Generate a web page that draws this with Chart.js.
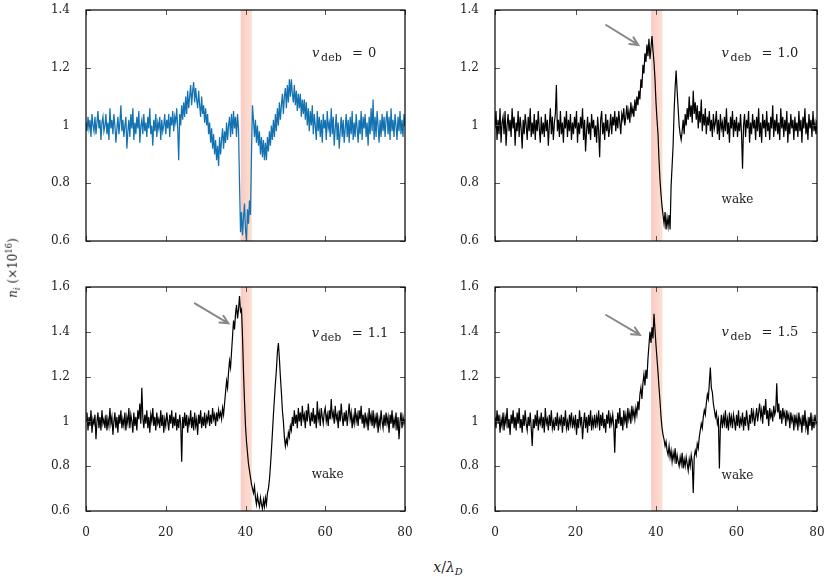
<!DOCTYPE html>
<html>
<head>
<meta charset="utf-8">
<script src="https://cdn.jsdelivr.net/npm/chart.js@4.4.1/dist/chart.umd.min.js"></script>
<style>
  body { margin: 0; background: #fff; }
  #wrap { position: relative; width: 832px; height: 577px; overflow: hidden; font-family: "DejaVu Serif", serif; color: #222; }
  canvas { position: absolute; }
  #ytitle { position: absolute; left: 13px; top: 268px; transform: translate(-50%, -50%) rotate(-90deg); font-size: 12px; white-space: nowrap; }
  #xtitle { position: absolute; left: 448px; top: 568px; transform: translate(-50%, -50%); font-size: 14px; white-space: nowrap; }
  sub, sup { font-size: 70%; }
</style>
</head>
<body>
<div id="wrap">
  <canvas id="pA" width="415" height="250" style="left:0;top:0"></canvas>
  <canvas id="pB" width="417" height="250" style="left:415px;top:0"></canvas>
  <canvas id="pC" width="415" height="295" style="left:0;top:250px"></canvas>
  <canvas id="pD" width="417" height="295" style="left:415px;top:250px"></canvas>
  <div id="ytitle"><i>n</i><sub><i>i</i></sub> (×10<sup>16</sup>)</div>
  <div id="xtitle"><i>x</i>/<i>λ</i><sub><i>D</i></sub></div>
</div>
<script>
// sampling grid, x / lambda_D (0 .. 80, step 0.25)
const xPos = Array.from({ length: 321 }, (_, i) => i * 0.25);

const xTicks = [0, 20, 40, 60, 80];
const yTicksTop = [0.6, 0.8, 1, 1.2, 1.4];
const yTicksBottom = [0.6, 0.8, 1, 1.2, 1.4, 1.6];

// debris region (shaded)
const debrisBand = [38.8, 41.6];

// n_i, v_deb = 0   (one row = 5 lambda_D)
const niV0 = [
  1.01, 0.98, 1.03, 0.99, 1.02, 0.96, 1.04, 1.00, 0.98, 1.03, 0.97, 1.01, 1.05, 0.99, 1.02, 0.95, 1.01, 1.03, 0.98, 1.00,
  1.04, 0.97, 1.01, 0.95, 1.06, 0.99, 1.02, 0.97, 1.04, 1.00, 0.94, 0.99, 1.03, 0.97, 1.01, 1.07, 0.98, 1.02, 0.96, 1.00,
  1.03, 0.92, 0.98, 1.02, 0.96, 1.04, 0.99, 1.06, 0.95, 1.01, 0.97, 1.03, 0.99, 1.05, 0.94, 1.00, 1.02, 0.97, 1.04, 0.98,
  1.01, 0.96, 1.03, 0.99, 1.06, 0.97, 1.00, 0.93, 1.02, 0.98, 1.04, 0.96, 1.01, 0.99, 1.03, 0.95, 1.02, 0.98, 1.00, 1.04,
  0.97, 1.02, 0.99, 1.04, 0.96, 1.03, 1.00, 1.05, 0.98, 1.03, 1.01, 1.06, 0.99, 0.88, 1.04, 1.00, 1.07, 1.02, 1.08, 1.03,
  1.10, 1.04, 1.12, 1.06, 1.10, 1.14, 1.07, 1.12, 1.15, 1.08, 1.13, 1.09, 1.06, 1.12, 1.07, 1.03, 1.10, 1.04, 1.07, 1.01,
  1.06, 1.00, 1.04, 0.97, 1.01, 0.94, 0.99, 0.92, 0.97, 0.90, 0.95, 0.88, 0.93, 0.86, 0.96, 0.90, 0.95, 0.99, 0.92, 0.98,
  0.94, 1.01, 0.95, 1.00, 1.03, 0.96, 1.04, 0.97, 1.05, 0.99, 1.03, 0.96, 1.04, 0.99, 0.80, 0.63, 0.70, 0.62, 0.68, 0.73,
  0.64, 0.60, 0.71, 0.66, 0.74, 0.69, 0.90, 1.07, 1.02, 0.96, 1.02, 0.94, 1.00, 0.93, 0.98, 0.90, 0.96, 0.89, 0.95, 0.88,
  0.94, 0.88, 0.96, 0.91, 0.98, 0.93, 1.00, 0.95, 1.02, 0.96, 1.04, 0.98, 1.06, 1.00, 1.08, 1.02, 1.07, 1.11, 1.04, 1.10,
  1.13, 1.06, 1.14, 1.08, 1.16, 1.10, 1.16, 1.11, 1.08, 1.14, 1.07, 1.12, 1.05, 1.11, 1.06, 1.11, 1.03, 1.09, 1.04, 1.09,
  1.02, 1.08, 1.00, 1.06, 0.98, 1.05, 1.00, 1.07, 0.97, 1.04, 1.00, 0.95, 1.05, 0.98, 1.03, 0.96, 1.02, 0.94, 1.04, 0.99,
  1.02, 0.95, 1.05, 0.99, 1.01, 0.96, 1.06, 0.97, 1.03, 0.93, 0.99, 1.04, 0.95, 1.01, 0.92, 0.98, 1.03, 0.96, 1.02, 0.94,
  0.99, 1.04, 0.96, 1.02, 0.94, 1.03, 0.97, 1.05, 0.95, 1.01, 0.96, 1.04, 0.99, 0.94, 1.02, 0.97, 1.05, 0.95, 1.03, 0.99,
  1.04, 0.96, 1.01, 0.93, 1.03, 0.97, 1.06, 0.98, 1.09, 0.95, 1.03, 0.96, 1.05, 1.00, 0.94, 1.02, 0.96, 1.04, 0.98, 1.03,
  0.96, 1.02, 1.05, 0.97, 1.03, 0.95, 1.06, 0.98, 1.02, 0.96, 1.04, 1.00, 0.95, 1.03, 0.98, 1.05, 0.97, 1.02, 0.96, 1.04,
  1.00
];

// n_i, v_deb = 1.0
const niV10 = [
  0.99, 1.05, 0.95, 1.02, 0.97, 1.06, 0.94, 1.01, 1.03, 0.97, 1.05, 0.93, 1.00, 1.04, 0.98, 1.02, 0.96, 1.06, 0.99, 1.03,
  0.93, 1.01, 0.98, 1.05, 0.96, 1.03, 0.99, 0.92, 1.02, 0.97, 1.04, 1.00, 0.95, 1.03, 0.98, 1.06, 0.96, 1.01, 0.97, 1.04,
  0.95, 1.02, 0.98, 1.05, 0.99, 0.94, 1.03, 0.97, 1.01, 0.96, 1.04, 0.98, 1.02, 0.93, 1.00, 1.06, 0.97, 1.03, 0.95, 1.01,
  1.04, 1.14, 0.98, 1.02, 0.96, 1.05, 0.97, 1.01, 0.94, 1.03, 0.99, 1.05, 0.96, 1.02, 0.98, 1.04, 0.95, 1.01, 0.97, 1.03,
  0.99, 1.05, 0.94, 1.01, 0.97, 1.03, 0.99, 1.06, 0.95, 1.02, 0.91, 0.98, 1.03, 0.97, 1.01, 0.95, 1.04, 0.99, 1.02, 0.96,
  1.00, 0.94, 1.03, 0.98, 0.89, 1.02, 1.05, 0.97, 1.01, 0.95, 1.04, 0.98, 1.02, 0.96, 0.99, 1.04, 0.97, 1.03, 1.00, 1.05,
  0.98, 1.03, 0.99, 1.05, 1.01, 0.97, 1.04, 1.02, 1.06, 1.00, 1.03, 1.07, 1.02, 1.05, 1.01, 1.08, 1.04, 1.06, 1.03, 1.09,
  1.05, 1.10, 1.07, 1.12, 1.09, 1.16, 1.13, 1.21, 1.18, 1.25, 1.22, 1.28, 1.24, 1.30, 1.23, 1.27, 1.31, 1.26, 1.22, 1.16,
  1.08, 1.02, 0.97, 0.88, 0.81, 0.76, 0.72, 0.69, 0.66, 0.70, 0.64, 0.68, 0.65, 0.69, 0.64, 0.79, 0.86, 0.93, 1.05, 1.13,
  1.19, 1.12, 1.06, 1.00, 0.97, 0.95, 0.98, 1.02, 0.97, 1.04, 1.00, 1.06, 1.02, 1.10, 1.03, 1.07, 1.01, 1.12, 1.04, 1.08,
  1.02, 1.07, 0.99, 1.05, 1.01, 1.09, 0.98, 1.04, 1.00, 1.06, 0.97, 1.03, 1.00, 1.05, 0.98, 1.02, 0.96, 1.04, 0.99, 1.01,
  1.05, 0.97, 1.02, 0.95, 1.04, 0.99, 1.01, 0.96, 1.03, 0.98, 1.06, 0.97, 1.01, 0.94, 1.03, 0.99, 1.05, 0.96, 1.02, 0.98,
  1.03, 0.96, 1.01, 0.98, 1.04, 0.97, 0.85, 1.00, 1.04, 0.96, 1.02, 0.99, 1.05, 0.94, 1.01, 0.97, 1.04, 0.99, 1.02, 0.95,
  1.03, 0.98, 1.06, 0.96, 1.01, 0.94, 1.04, 0.99, 1.02, 0.96, 1.05, 0.98, 1.01, 0.95, 1.03, 0.99, 1.07, 0.96, 1.02, 0.98,
  1.04, 0.97, 1.01, 0.95, 1.06, 0.99, 1.03, 0.96, 1.02, 0.98, 1.05, 0.94, 1.01, 0.97, 1.04, 0.99, 1.02, 0.95, 1.03, 0.98,
  1.01, 0.96, 1.05, 0.98, 1.02, 0.94, 1.03, 0.99, 1.06, 0.97, 1.01, 0.95, 1.04, 0.99, 1.02, 0.96, 1.05, 0.98, 1.01, 0.97,
  1.02
];

// n_i, v_deb = 1.1
const niV11 = [
  1.00, 1.04, 0.96, 1.02, 0.98, 1.05, 0.95, 1.01, 0.99, 1.03, 0.92, 1.00, 1.04, 0.97, 1.02, 0.96, 1.05, 0.99, 1.01, 0.97,
  1.03, 0.96, 1.01, 0.98, 1.06, 0.99, 1.02, 0.94, 1.00, 1.04, 0.97, 1.02, 0.95, 1.03, 0.99, 1.05, 0.97, 1.01, 0.98, 1.04,
  0.96, 1.02, 0.99, 1.06, 0.97, 1.03, 1.00, 0.95, 1.04, 0.98, 1.02, 0.96, 1.05, 1.01, 1.08, 0.99, 1.15, 1.02, 0.97, 1.03,
  0.99, 1.05, 0.97, 1.02, 0.95, 1.03, 1.00, 1.06, 0.98, 1.02, 0.96, 1.04, 0.99, 1.01, 0.97, 1.05, 0.98, 1.03, 0.95, 1.01,
  0.98, 1.04, 1.00, 0.96, 1.03, 0.99, 1.05, 0.97, 1.02, 0.98, 1.04, 0.96, 1.01, 0.97, 1.03, 0.99, 0.82, 1.02, 0.97, 1.04,
  0.98, 1.03, 0.95, 1.01, 0.99, 1.05, 0.97, 1.02, 0.96, 1.04, 0.98, 1.01, 0.94, 1.03, 0.99, 1.05, 0.97, 1.02, 0.98, 1.04,
  0.97, 1.02, 1.00, 1.05, 0.98, 1.03, 0.99, 1.06, 1.01, 1.03, 0.98, 1.04, 1.00, 1.05, 1.02, 1.04, 1.01, 1.06, 1.03, 1.08,
  1.13, 1.18, 1.15, 1.22, 1.27, 1.24, 1.31, 1.38, 1.45, 1.41, 1.48, 1.52, 1.46, 1.50, 1.56, 1.49, 1.50, 1.38, 1.22, 1.09,
  0.98, 0.91, 0.86, 0.81, 0.78, 0.75, 0.72, 0.70, 0.68, 0.71, 0.66, 0.63, 0.67, 0.64, 0.62, 0.66, 0.63, 0.61, 0.65, 0.62,
  0.66, 0.63, 0.68, 0.70, 0.74, 0.80, 0.87, 0.95, 1.03, 1.10, 1.17, 1.23, 1.31, 1.35, 1.28, 1.20, 1.13, 1.05, 1.00, 0.93,
  0.89, 0.92, 0.90, 0.95, 0.93, 0.98, 0.96, 1.02, 0.98, 1.05, 0.99, 1.03, 0.97, 1.06, 1.00, 1.04, 0.98, 1.07, 1.01, 1.03,
  0.97, 1.05, 1.00, 1.08, 1.02, 0.98, 1.04, 1.00, 1.06, 0.99, 1.03, 0.97, 1.09, 1.01, 1.04, 0.98, 1.06, 1.02, 0.99, 1.04,
  1.06, 1.00, 1.03, 0.98, 1.05, 1.01, 1.10, 1.02, 1.04, 0.99, 1.07, 1.01, 1.03, 0.97, 1.05, 1.00, 1.08, 1.02, 0.98, 1.04,
  1.00, 1.05, 0.98, 1.03, 1.08, 1.01, 1.04, 0.97, 1.02, 0.99, 1.06, 1.00, 1.03, 0.98, 1.05, 1.01, 1.07, 0.99, 1.03, 0.97,
  1.04, 0.99, 1.02, 0.96, 1.06, 1.00, 1.03, 0.98, 1.05, 0.97, 1.02, 0.99, 1.04, 0.95, 1.01, 0.98, 1.05, 1.00, 0.97, 1.03,
  0.98, 1.04, 0.99, 1.02, 0.95, 1.03, 0.99, 1.05, 0.97, 1.01, 0.98, 1.04, 0.96, 1.02, 0.92, 1.00, 1.04, 0.97, 1.02, 0.99,
  1.01
];

// n_i, v_deb = 1.5
const niV15 = [
  1.02, 0.97, 1.05, 0.99, 1.03, 0.95, 1.01, 0.98, 1.04, 0.96, 1.02, 0.99, 1.06, 0.97, 1.01, 0.94, 1.03, 0.99, 1.05, 0.97,
  1.02, 0.96, 1.04, 0.99, 1.06, 0.97, 1.01, 0.95, 1.03, 0.98, 1.05, 0.99, 0.96, 1.02, 0.98, 1.04, 0.97, 0.89, 1.01, 0.97,
  1.03, 0.98, 1.05, 0.96, 1.01, 0.99, 1.04, 0.97, 1.02, 0.95, 1.06, 0.99, 1.01, 0.96, 1.03, 0.98, 1.05, 0.97, 1.00, 0.96,
  1.02, 0.98, 1.04, 0.96, 1.01, 0.99, 1.03, 0.95, 1.02, 0.98, 1.05, 0.97, 1.00, 0.96, 1.03, 0.99, 1.04, 0.97, 1.01, 0.98,
  1.03, 0.94, 1.01, 0.97, 1.05, 0.99, 1.02, 0.92, 0.99, 1.04, 0.97, 1.02, 0.95, 1.03, 0.98, 1.05, 0.96, 1.01, 0.98, 1.03,
  0.97, 1.02, 0.99, 1.05, 0.96, 1.03, 0.98, 1.04, 0.97, 1.01, 0.95, 1.03, 0.99, 1.05, 0.97, 1.02, 0.99, 1.03, 0.98, 0.86,
  1.01, 0.97, 1.04, 0.99, 1.06, 0.98, 1.02, 0.96, 1.05, 1.00, 1.03, 0.97, 1.06, 1.01, 1.04, 0.99, 1.07, 1.02, 1.05, 1.01,
  1.06, 1.03, 1.09, 1.05, 1.12, 1.15, 1.10, 1.17, 1.21, 1.16, 1.23, 1.19, 1.28, 1.34, 1.40, 1.35, 1.42, 1.37, 1.48, 1.41,
  1.34, 1.28, 1.22, 1.15, 1.09, 1.02, 0.97, 0.94, 0.92, 0.89, 0.91, 0.87, 0.85, 0.89, 0.84, 0.87, 0.82, 0.86, 0.83, 0.88,
  0.81, 0.85, 0.82, 0.80, 0.84, 0.81, 0.86, 0.79, 0.83, 0.80, 0.84, 0.81, 0.78, 0.83, 0.80, 0.85, 0.82, 0.68, 0.84, 0.87,
  0.85, 0.90, 0.88, 0.93, 0.96, 0.99, 0.97, 1.02, 1.05, 1.03, 1.08, 1.12, 1.10, 1.17, 1.24, 1.15, 1.13, 1.08, 1.05, 1.02,
  1.04, 0.99, 1.01, 0.79, 0.98, 1.03, 0.97, 1.02, 0.99, 1.05, 0.97, 1.01, 0.96, 1.04, 0.99, 1.02, 0.97, 1.03, 1.00, 0.96,
  1.03, 0.98, 1.05, 0.97, 1.01, 0.99, 1.04, 0.96, 1.02, 0.98, 1.05, 1.00, 0.96, 1.03, 0.99, 1.06, 1.01, 1.04, 0.98, 1.02,
  1.06, 1.00, 1.04, 1.08, 1.02, 1.05, 0.99, 1.07, 1.03, 1.10, 1.01, 1.05, 0.98, 1.06, 1.02, 1.04, 1.00, 1.07, 1.03, 1.05,
  1.17, 1.04, 1.08, 1.01, 1.05, 0.99, 1.06, 1.02, 1.04, 0.98, 1.05, 1.01, 1.03, 0.97, 1.04, 1.00, 1.02, 0.96, 1.03, 0.99,
  1.02, 0.96, 1.04, 0.99, 1.01, 0.95, 1.03, 0.98, 1.05, 0.97, 1.00, 0.94, 1.02, 0.98, 1.04, 0.96, 1.01, 0.97, 1.03, 0.99,
  1.00
];

const serif = '"DejaVu Serif", serif';
const tickFont = { family: serif, size: 12 };

// frame, inward mirrored ticks, shaded band, arrow and labels
const panelDecor = {
  id: 'panelDecor',
  beforeDatasetsDraw(chart, args, opts) {
    const { ctx, chartArea: a, scales: { x } } = chart;
    const x0 = x.getPixelForValue(debrisBand[0]);
    const x1 = x.getPixelForValue(debrisBand[1]);
    const g = ctx.createLinearGradient(x0, 0, x1, 0);
    g.addColorStop(0, 'rgba(245,170,160,0.62)');
    g.addColorStop(1, 'rgba(250,205,180,0.62)');
    ctx.save();
    ctx.fillStyle = g;
    ctx.fillRect(x0, a.top, x1 - x0, a.bottom - a.top);
    ctx.restore();
  },
  afterDatasetsDraw(chart, args, opts) {
    const { ctx, chartArea: a, scales: { x, y } } = chart;
    ctx.save();
    // ticks
    ctx.strokeStyle = '#555';
    ctx.lineWidth = 1;
    ctx.beginPath();
    xTicks.forEach(v => {
      const px = Math.round(x.getPixelForValue(v)) + 0.5;
      ctx.moveTo(px, a.bottom); ctx.lineTo(px, a.bottom - 5);
      ctx.moveTo(px, a.top); ctx.lineTo(px, a.top + 5);
    });
    opts.yTicks.forEach(v => {
      const py = Math.round(y.getPixelForValue(v)) + 0.5;
      ctx.moveTo(a.left, py); ctx.lineTo(a.left + 5, py);
      ctx.moveTo(a.right, py); ctx.lineTo(a.right - 5, py);
    });
    ctx.stroke();
    // frame
    ctx.strokeStyle = '#000';
    ctx.lineWidth = 1.2;
    ctx.strokeRect(a.left, a.top, a.right - a.left, a.bottom - a.top);

    // arrow
    if (opts.arrow) {
      const [tx, ty, hx, hy] = opts.arrow;
      const sx = x.getPixelForValue(tx), sy = y.getPixelForValue(ty);
      const ex = x.getPixelForValue(hx), ey = y.getPixelForValue(hy);
      const ang = Math.atan2(ey - sy, ex - sx);
      ctx.strokeStyle = '#888';
      ctx.lineWidth = 2;
      ctx.lineCap = 'round';
      ctx.beginPath();
      ctx.moveTo(sx, sy); ctx.lineTo(ex, ey);
      ctx.moveTo(ex - 9 * Math.cos(ang - 0.45), ey - 9 * Math.sin(ang - 0.45));
      ctx.lineTo(ex, ey);
      ctx.lineTo(ex - 9 * Math.cos(ang + 0.45), ey - 9 * Math.sin(ang + 0.45));
      ctx.stroke();
    }

    // v_deb label
    ctx.fillStyle = '#222';
    ctx.textBaseline = 'alphabetic';
    ctx.textAlign = 'left';
    const lx = x.getPixelForValue(opts.label[0]);
    const ly = y.getPixelForValue(opts.label[1]);
    ctx.font = 'italic 13px ' + serif;
    ctx.fillText('v', lx, ly);
    ctx.font = '11px ' + serif;
    ctx.fillText('deb', lx + 9, ly + 4);
    ctx.font = '13px ' + serif;
    ctx.fillText('=', lx + 40, ly);
    ctx.fillText(opts.vdeb, lx + 56, ly);

    if (opts.wake) {
      ctx.font = '12px ' + serif;
      ctx.textBaseline = 'middle';
      ctx.fillText('wake', x.getPixelForValue(opts.wake[0]), y.getPixelForValue(opts.wake[1]));
    }
    ctx.restore();
  }
};

function makePanel(id, values, cfg) {
  return new Chart(document.getElementById(id), {
    type: 'line',
    data: {
      datasets: [{
        data: values.map((v, i) => ({ x: xPos[i], y: v })),
        borderColor: cfg.color,
        borderWidth: cfg.width,
        pointRadius: 0,
        tension: 0,
        fill: false
      }]
    },
    options: {
      responsive: false,
      animation: false,
      devicePixelRatio: 1,
      layout: { padding: cfg.padding, autoPadding: false },
      plugins: {
        legend: { display: false },
        tooltip: { enabled: false },
        panelDecor: cfg.decor
      },
      scales: {
        x: {
          type: 'linear',
          min: 0,
          max: 80,
          afterBuildTicks: s => { s.ticks = xTicks.map(v => ({ value: v })); },
          afterFit: s => {
            s.height = cfg.xHeight;
            s.paddingLeft = 0; s.paddingRight = 0; s.paddingTop = 0; s.paddingBottom = 0;
          },
          grid: { display: false, drawTicks: false },
          border: { display: false },
          ticks: { display: cfg.showX, padding: 15, font: tickFont, color: '#222', maxRotation: 0 }
        },
        y: {
          type: 'linear',
          min: cfg.yTicks[0],
          max: cfg.yTicks[cfg.yTicks.length - 1],
          afterBuildTicks: s => { s.ticks = cfg.yTicks.map(v => ({ value: v })); },
          afterFit: s => {
            s.width = cfg.yWidth;
            s.paddingLeft = 0; s.paddingRight = 0; s.paddingTop = 0; s.paddingBottom = 0;
          },
          grid: { display: false, drawTicks: false },
          border: { display: false },
          ticks: { padding: 16, font: tickFont, color: '#222', callback: v => String(v) }
        }
      }
    },
    plugins: [panelDecor]
  });
}

makePanel('pA', niV0, {
  color: '#1372b2', width: 1.25, yTicks: yTicksTop, showX: false,
  padding: { top: 10, right: 10, bottom: 0, left: 0 }, xHeight: 9, yWidth: 86,
  decor: { yTicks: yTicksTop, label: [56.7, 1.237], vdeb: '0' }
});
makePanel('pB', niV10, {
  color: '#000', width: 1.2, yTicks: yTicksTop, showX: false,
  padding: { top: 10, right: 15, bottom: 0, left: 0 }, xHeight: 9, yWidth: 80,
  decor: { yTicks: yTicksTop, label: [56.3, 1.237], vdeb: '1.0', wake: [56.3, 0.742], arrow: [27.6, 1.348, 35.6, 1.279] }
});
makePanel('pC', niV11, {
  color: '#000', width: 1.2, yTicks: yTicksBottom, showX: true,
  padding: { top: 37, right: 10, bottom: 0, left: 0 }, xHeight: 34, yWidth: 86,
  decor: { yTicks: yTicksBottom, label: [56.6, 1.377], vdeb: '1.1', wake: [56.6, 0.761], arrow: [27.3, 1.527, 35.7, 1.438] }
});
makePanel('pD', niV15, {
  color: '#000', width: 1.2, yTicks: yTicksBottom, showX: true,
  padding: { top: 37, right: 15, bottom: 0, left: 0 }, xHeight: 34, yWidth: 80,
  decor: { yTicks: yTicksBottom, label: [56.3, 1.38], vdeb: '1.5', wake: [56.3, 0.756], arrow: [27.6, 1.475, 36.0, 1.386] }
});
</script>
</body>
</html>
